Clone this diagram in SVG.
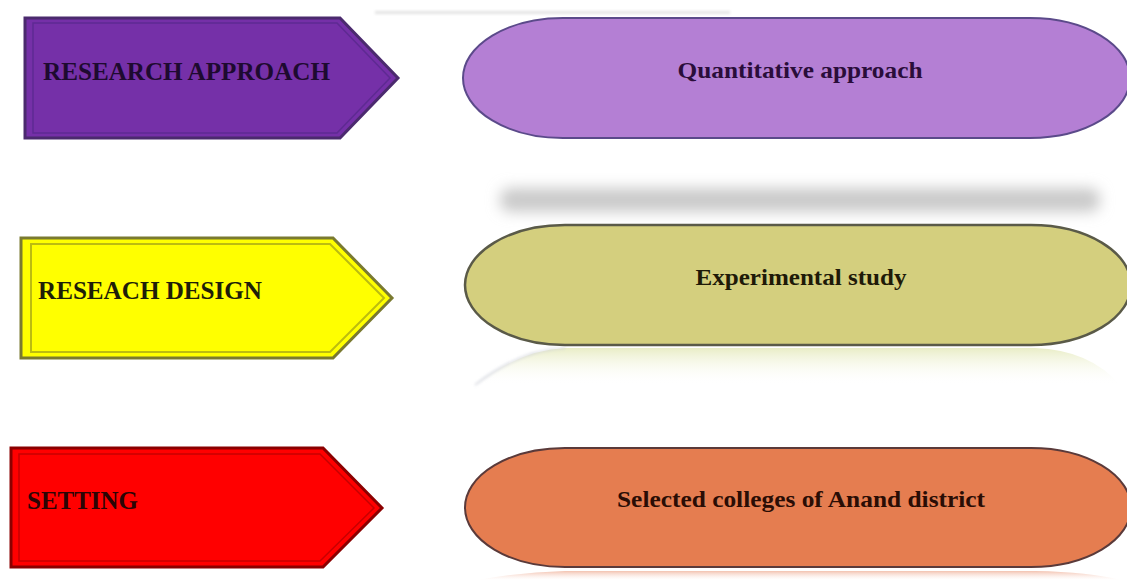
<svg xmlns="http://www.w3.org/2000/svg" width="1127" height="580" viewBox="0 0 1127 580">
<defs>
<style>
.lbl{font-family:"Liberation Serif","Times New Roman",serif;font-weight:bold;font-size:25px;}
.pt{font-family:"Liberation Serif","Times New Roman",serif;font-weight:bold;font-size:24px;text-anchor:middle;}
</style>
<filter id="blur" x="-10%" y="-150%" width="120%" height="400%"><feGaussianBlur stdDeviation="7"/></filter>
<filter id="soft" x="-5%" y="-50%" width="110%" height="200%"><feGaussianBlur stdDeviation="1.5"/></filter>
<linearGradient id="refY" x1="0" y1="0" x2="0" y2="1">
<stop offset="0" stop-color="#e9edc6"/>
<stop offset="1" stop-color="#ffffff" stop-opacity="0"/>
</linearGradient>
<linearGradient id="refR" x1="0" y1="0" x2="0" y2="1">
<stop offset="0" stop-color="#f3c2b0"/>
<stop offset="1" stop-color="#ffffff" stop-opacity="0.3"/>
</linearGradient>
</defs>
<rect width="1127" height="580" fill="#ffffff"/>

<g id="effects">
<rect x="375" y="11" width="355" height="3" fill="#e2e2e2" filter="url(#soft)"/>
<rect x="500" y="188" width="600" height="24" rx="10" fill="#cacaca" filter="url(#blur)"/>
<path d="M475,385 Q520,350 565,348 L1035,348 Q1090,350 1120,385 Z" fill="url(#refY)"/>
<path d="M475,385 Q520,350 565,348" fill="none" stroke="#cfd1da" stroke-width="1.5" filter="url(#soft)"/>
<path d="M478,580 Q520,572 565,571 L1035,571 Q1090,572 1120,580 Z" fill="url(#refR)"/>
</g>

<g id="arrow-approach">
<polygon points="25,18 340,18 398,78 340,138 25,138" fill="#7530a8" stroke="#4b2a6e" stroke-width="3"/>
<polygon points="33,23 337,23 390,78 337,133 33,133" fill="none" stroke="#5e2a92" stroke-width="1.5"/>
<text class="lbl" x="43" y="80" fill="#1e0a30" textLength="287" lengthAdjust="spacingAndGlyphs">RESEARCH APPROACH</text>
</g>

<g id="arrow-design">
<polygon points="21,238 333,238 392,298 333,358 21,358" fill="#ffff00" stroke="#7a7a30" stroke-width="3"/>
<polygon points="31,244 330,244 384,298 330,352 31,352" fill="none" stroke="#bcbc10" stroke-width="2"/>
<text class="lbl" x="38" y="299" fill="#1e1e08" textLength="224" lengthAdjust="spacingAndGlyphs">RESEACH DESIGN</text>
</g>

<g id="arrow-setting">
<polygon points="11,448 323,448 382,508 323,567 11,567" fill="#ff0000" stroke="#8b0000" stroke-width="3"/>
<polygon points="19,454 320,454 374,508 320,561 19,561" fill="none" stroke="#c80000" stroke-width="1.5"/>
<text class="lbl" x="27" y="509" fill="#2a0505" textLength="111" lengthAdjust="spacingAndGlyphs">SETTING</text>
</g>

<g id="pill-quantitative">
<rect x="463" y="18" width="667" height="120" rx="100" ry="60" fill="#b47fd4" stroke="#5b4a8a" stroke-width="2"/>
<text class="pt" x="800" y="78" fill="#2a0d3a" textLength="245" lengthAdjust="spacingAndGlyphs">Quantitative approach</text>
</g>

<g id="pill-experimental">
<rect x="465" y="225" width="666" height="120" rx="100" ry="60" fill="#d4cf7e" stroke="#5a5a48" stroke-width="2.5"/>
<text class="pt" x="801" y="285" fill="#1e1a08" textLength="211" lengthAdjust="spacingAndGlyphs">Experimental study</text>
</g>

<g id="pill-setting">
<rect x="465" y="448" width="666" height="119" rx="100" ry="60" fill="#e57d50" stroke="#5a3a3a" stroke-width="2"/>
<text class="pt" x="801" y="507" fill="#2a0d05" textLength="368" lengthAdjust="spacingAndGlyphs">Selected colleges of Anand district</text>
</g>

<g id="connectors"></g>
</svg>
